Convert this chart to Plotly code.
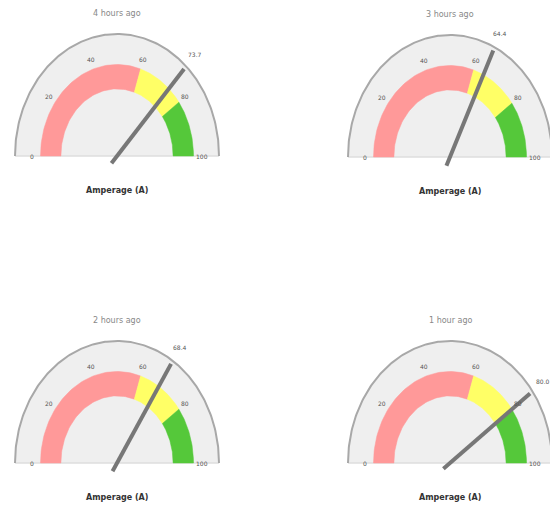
import numpy as np
import plotly.graph_objects as go

# ---- data ----
titles = ["4 hours ago", "3 hours ago", "2 hours ago", "1 hour ago"]
values = [73.7, 64.4, 68.4, 80.0]
axis_label = "Amperage (A)"
tick_values = [0, 20, 40, 60, 80, 100]
band_edges = [0, 60, 80, 100]
band_colors = ["#ff9999", "#ffff66", "#55c83a"]
vmin, vmax = 0, 100

PAGE_MARGIN = 8  # default body margin of the html page
W, H = 558, 505
centers = [(117, 156), (450, 157), (117, 463), (450, 463)]
RX, RY = 102, 122

fig = go.Figure()


def ang(v):
    return np.pi * (1 - (v - vmin) / (vmax - vmin))


def pt(cx, cy, r, a):
    return cx + RX * r * np.cos(a) - PAGE_MARGIN, cy - RY * r * np.sin(a) - PAGE_MARGIN


annotations = []
for i, (cx, cy) in enumerate(centers):
    # background semicircle
    th = np.linspace(0, np.pi, 200)
    xs, ys = pt(cx, cy, 1.0, th)
    fig.add_trace(go.Scatter(x=np.append(xs, xs[0]), y=np.append(ys, ys[0]), mode="lines",
                             fill="toself", fillcolor="#efefef", line=dict(width=0),
                             hoverinfo="skip", showlegend=False))
    bx0, by0 = pt(cx, cy, 1.0, 0.0)
    bx1, by1 = pt(cx, cy, 1.0, np.pi)
    fig.add_trace(go.Scatter(x=[bx0, bx1], y=[by0, by1], mode="lines",
                             line=dict(color="#dedede", width=1.5),
                             hoverinfo="skip", showlegend=False))
    fig.add_trace(go.Scatter(x=xs, y=ys, mode="lines",
                             line=dict(color="#a8a8a8", width=2),
                             hoverinfo="skip", showlegend=False))
    # bands
    for j in range(len(band_colors)):
        a0, a1 = ang(band_edges[j]), ang(band_edges[j + 1])
        t = np.linspace(a0, a1, 60)
        ox, oy = pt(cx, cy, 0.75, t)
        ix, iy = pt(cx, cy, 0.55, t[::-1])
        bx = np.concatenate([ox, ix, ox[:1]]); by = np.concatenate([oy, iy, oy[:1]])
        fig.add_trace(go.Scatter(x=bx, y=by, mode="lines", fill="toself",
                                 fillcolor=band_colors[j], line=dict(color=band_colors[j], width=0.5),
                                 hoverinfo="skip", showlegend=False))
    # tick labels
    for tv in tick_values:
        tx, ty = pt(cx, cy, 0.83, ang(tv))
        annotations.append(dict(x=tx, y=ty, text=str(tv), showarrow=False,
                                font=dict(size=6, color="#555555", family="DejaVu Sans"),
                                xref="x", yref="y"))
    # needle
    a = ang(values[i])
    x0, y0 = pt(cx, cy, -0.08, a)
    x1, y1 = pt(cx, cy, 0.97, a)
    fig.add_trace(go.Scatter(x=[x0, x1], y=[y0, y1], mode="lines",
                             line=dict(color="#777777", width=4),
                             hoverinfo="skip", showlegend=False))
    vx, vy = pt(cx, cy, 1.13, a)
    annotations.append(dict(x=vx, y=vy, text=f"{values[i]:.1f}", showarrow=False,
                            font=dict(size=6, color="#555555", family="DejaVu Sans"),
                            xref="x", yref="y"))
    # title and label
    tx, ty = pt(cx, cy, 0, 0)
    annotations.append(dict(x=tx, y=ty - 143, text=titles[i], showarrow=False,
                            font=dict(size=8, color="#888888", family="DejaVu Sans"),
                            xref="x", yref="y"))
    annotations.append(dict(x=tx, y=ty + 34, text=f"<b>{axis_label}</b>", showarrow=False,
                            font=dict(size=8, color="#333333", family="DejaVu Sans"),
                            xref="x", yref="y"))

fig.update_layout(
    width=W, height=H, margin=dict(l=0, r=0, t=0, b=0),
    paper_bgcolor="white", plot_bgcolor="white",
    xaxis=dict(range=[0, W], visible=False, fixedrange=True),
    yaxis=dict(range=[H, 0], visible=False, fixedrange=True),
    annotations=annotations,
)

fig.write_html("out.html")
